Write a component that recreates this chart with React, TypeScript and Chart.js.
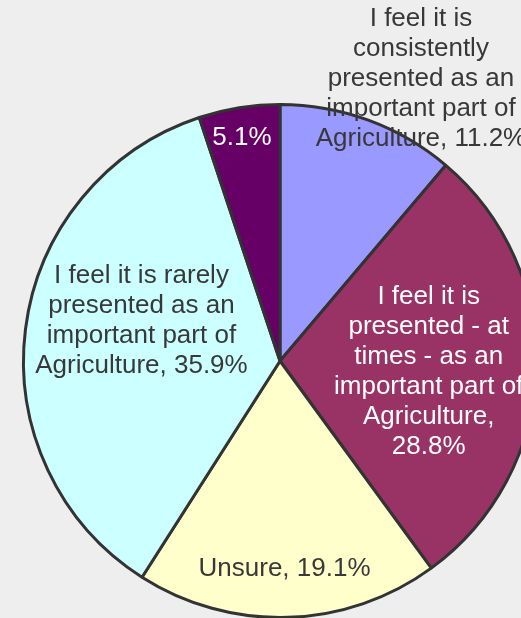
import React, { useEffect, useRef } from "react";
import { Chart, registerables } from "chart.js";

Chart.register(...registerables);

// ---- data ----
const categories = [
  "I feel it is consistently presented as an important part of Agriculture",
  "I feel it is presented - at times - as an important part of Agriculture",
  "Unsure",
  "I feel it is rarely presented as an important part of Agriculture",
  "Other",
];
const values = [11.2, 28.8, 19.1, 35.9, 5.1];
// how each category name is broken into lines in the data label (empty = percentage only)
const categoryLines = [
  ["I feel it is", "consistently", "presented as an", "important part of", "Agriculture"],
  ["I feel it is", "presented - at", "times - as an", "important part of", "Agriculture"],
  ["Unsure"],
  ["I feel it is rarely", "presented as an", "important part of", "Agriculture"],
  [],
];
const colors = ["#9999FF", "#993366", "#FFFFCC", "#CCFFFF", "#660066"];

// ---- label styling / placement (relative to each slice's mid angle) ----
const labelPlacement = [
  { r: 1.2, dx: 35, dy: 7, color: "#383838", valueOwnLine: false },
  { r: 0.58, dx: 0, dy: 5, color: "#FFFFFF", valueOwnLine: true },
  { r: 0.81, dx: -2, dy: 0, color: "#383838", valueOwnLine: false },
  { r: 0.56, dx: 4, dy: -22, color: "#383838", valueOwnLine: false },
  { r: 0.87, dx: -2.5, dy: -3, color: "#FFFFFF", valueOwnLine: false },
];

const FONT = '26px "Liberation Sans", Arial, sans-serif';
const LINE_H = 30;

function buildLines(i: number): string[] {
  const pct = `${values[i].toFixed(1)}%`;
  const base = categoryLines[i].slice();
  if (base.length === 0) return [pct];
  if (labelPlacement[i].valueOwnLine) {
    base[base.length - 1] = base[base.length - 1] + ",";
    base.push(pct);
  } else {
    base[base.length - 1] = base[base.length - 1] + ", " + pct;
  }
  return base;
}

const labelPlugin = {
  id: "sliceLabels",
  afterDatasetsDraw(chart: any) {
    const ctx = chart.ctx;
    const meta = chart.getDatasetMeta(0);
    ctx.save();
    ctx.font = FONT;
    ctx.textAlign = "center";
    ctx.textBaseline = "middle";
    meta.data.forEach((arc: any, i: number) => {
      const p = arc.getProps(["x", "y", "startAngle", "endAngle", "outerRadius"], true);
      const mid = (p.startAngle + p.endAngle) / 2;
      const pl = labelPlacement[i];
      const cx = p.x + Math.cos(mid) * p.outerRadius * pl.r + pl.dx;
      const cy = p.y + Math.sin(mid) * p.outerRadius * pl.r + pl.dy;
      const lines = buildLines(i);
      const top = cy - ((lines.length - 1) * LINE_H) / 2;
      ctx.fillStyle = pl.color;
      lines.forEach((ln, k) => ctx.fillText(ln, cx, top + k * LINE_H));
    });
    ctx.restore();
  },
};

export default function App() {
  const ref = useRef<HTMLCanvasElement | null>(null);
  useEffect(() => {
    if (!ref.current) return;
    const chart = new Chart(ref.current, {
      type: "pie",
      data: {
        labels: categories,
        datasets: [
          {
            data: values,
            backgroundColor: colors,
            borderColor: "#333333",
            borderWidth: 3,
          },
        ],
      },
      options: {
        responsive: false,
        animation: false,
        layout: { padding: { left: 22, top: 103, right: 32, bottom: 41 } },
        plugins: {
          legend: { display: false },
          tooltip: { enabled: false },
        },
      },
      plugins: [labelPlugin],
    });
    return () => chart.destroy();
  }, []);
  return (
    <div
      style={{
        position: "absolute",
        left: 0,
        top: 0,
        width: 521,
        height: 618,
        overflow: "hidden",
        background: "#EEEEEE",
      }}
    >
      <canvas ref={ref} width={570} height={660} style={{ width: 570, height: 660, display: "block" }} />
    </div>
  );
}
